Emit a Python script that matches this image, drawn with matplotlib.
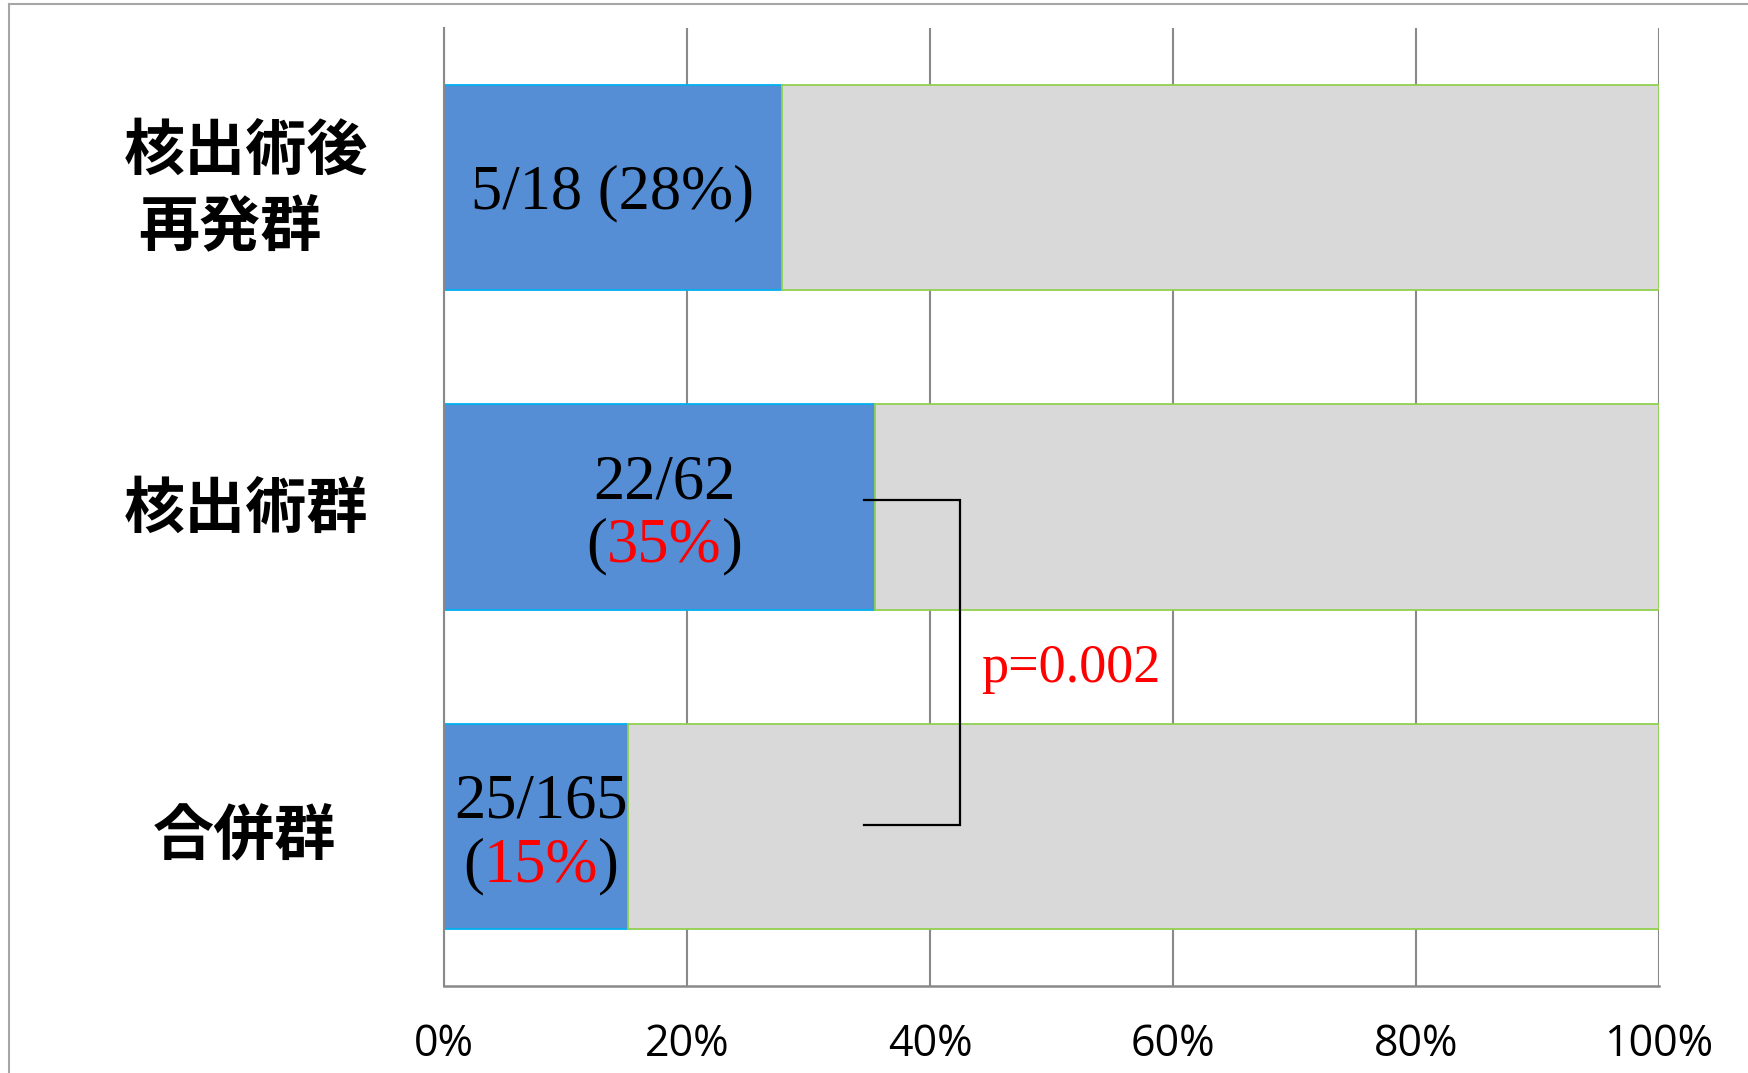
import matplotlib
matplotlib.use('Agg')
import matplotlib.pyplot as plt
import matplotlib.transforms as mtransforms
from matplotlib.lines import Line2D

# ---- data ----
categories = ['核出術後\n再発群', '核出術群', '合併群']
events = [5, 22, 25]
totals = [18, 62, 165]
pct_labels = ['28%', '35%', '15%']
red_pct = [False, True, True]
xticks = [0, 0.2, 0.4, 0.6, 0.8, 1.0]
xtick_labels = ['0%', '20%', '40%', '60%', '80%', '100%']
p_label = 'p=0.002'

rates = [e / t for e, t in zip(events, totals)]
rest = [1 - r for r in rates]

BLUE = '#558ED5'
BLUE_EDGE = '#00B0F0'
GRAY = '#D9D9D9'
GREEN_EDGE = '#92D050'
GRID = '#898989'

SERIF = ['Liberation Serif', 'DejaVu Serif']
CJK = ['Noto Sans CJK JP', 'DejaVu Sans']
TICKF = ['Open Sans', 'DejaVu Sans']

fig = plt.figure(figsize=(17.49, 10.73), dpi=100)
fig.patch.set_facecolor('white')

# outer frame (partially visible)
fx = 9 / 1749
fy = 1 - 4 / 1073
fig.add_artist(Line2D([fx, 1.0], [fy, fy], transform=fig.transFigure, color='#A6A6A6', lw=1.5))
fig.add_artist(Line2D([fx, fx], [0.0, fy], transform=fig.transFigure, color='#A6A6A6', lw=1.5))

ax = fig.add_axes([0.2539, 0.0811, 0.6947, 0.8928])
ypos = list(range(len(categories)))
ax.barh(ypos, rates, height=0.643, color=BLUE, edgecolor=BLUE_EDGE, linewidth=1.3, zorder=2)
ax.barh(ypos, rest, left=rates, height=0.643, color=GRAY, edgecolor=GREEN_EDGE, linewidth=1.3, zorder=2)

ax.set_xlim(0, 1)
ax.set_ylim(len(categories) - 0.5, -0.5)
ax.set_axisbelow(True)
ax.set_xticks(xticks)
ax.set_xticklabels(xtick_labels, fontfamily=TICKF, fontsize=31)
ax.set_yticks([])
ax.tick_params(axis='x', length=0, pad=26)
ax.xaxis.grid(True, color=GRID, lw=1.5)
for s in ['top', 'right']:
    ax.spines[s].set_visible(False)
ax.spines['left'].set_color(GRID)
ax.spines['left'].set_linewidth(1.5)
ax.spines['bottom'].set_color(GRID)
ax.spines['bottom'].set_linewidth(1.8)

# category labels
blend = mtransforms.blended_transform_factory(ax.transAxes, ax.transData)
cat_x = [-0.163, -0.163, -0.1646]
cat_dy = [0.011, 0.011, 0.031]
for i, lab in enumerate(categories):
    lines = lab.split('\n')
    if len(lines) == 2:
        ax.text(-0.163, i - 0.113, lines[0], transform=blend, ha='center', va='center',
                fontfamily=CJK, fontweight='bold', fontsize=44)
        ax.text(-0.1765, i + 0.124, lines[1], transform=blend, ha='center', va='center',
                fontfamily=CJK, fontweight='bold', fontsize=44)
    else:
        ax.text(cat_x[i], i + cat_dy[i], lab, transform=blend, ha='center', va='center',
                fontfamily=CJK, fontweight='bold', fontsize=44)

# value labels inside blue segments
VS = 45
for i in range(len(categories)):
    xc = rates[i] / 2
    if not red_pct[i]:
        ax.text(xc, i + 0.064, f'{events[i]}/{totals[i]} ({pct_labels[i]})', ha='center',
                va='baseline', fontfamily=SERIF, fontsize=VS, color='black', zorder=5)
    else:
        ax.text(xc + 0.004, i - 0.027, f'{events[i]}/{totals[i]}', ha='center', va='baseline',
                fontfamily=SERIF, fontsize=VS, color='black', zorder=5)
        mid = ax.text(xc + 0.004, i + 0.172, pct_labels[i], ha='center', va='baseline',
                      fontfamily=SERIF, fontsize=VS, color='red', zorder=5)
        ax.annotate('(', xy=(0, 0), xycoords=mid, ha='right', va='bottom',
                    fontfamily=SERIF, fontsize=VS, color='black', zorder=5)
        ax.annotate(')', xy=(1, 0), xycoords=mid, ha='left', va='bottom',
                    fontfamily=SERIF, fontsize=VS, color='black', zorder=5)

# bracket and p-value
ax.plot([0.346, 0.425, 0.425, 0.346], [0.977, 0.977, 1.995, 1.995], color='black',
        lw=1.6, zorder=6, solid_joinstyle='miter')
ax.text(0.442, 1.549, p_label, ha='left', va='baseline', fontfamily=SERIF, fontsize=39,
        color='red', zorder=6)

fig.savefig('out.png', dpi=100, facecolor='white')
